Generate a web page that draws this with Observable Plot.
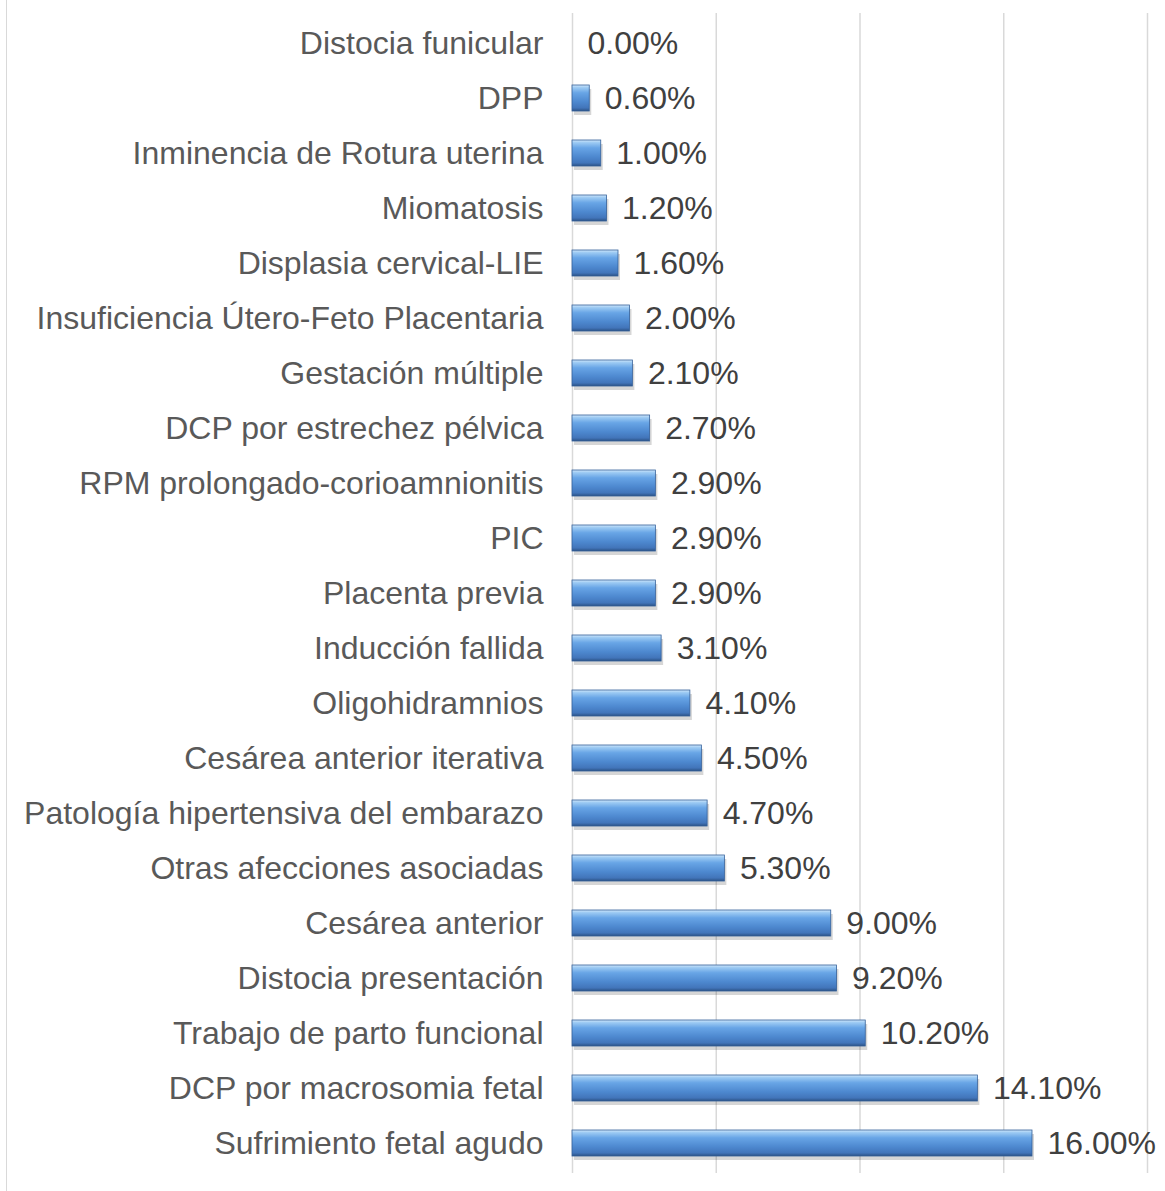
<!DOCTYPE html>
<html>
<head>
<meta charset="utf-8">
<script src="https://cdn.jsdelivr.net/npm/d3@7"></script>
<script src="https://cdn.jsdelivr.net/npm/@observablehq/plot@0.6"></script>
<style>
  html, body { margin: 0; padding: 0; background: #fff; }
  #wrap { position: relative; width: 1165px; height: 1191px; overflow: hidden; }
  #edge { position: absolute; left: 6px; top: 0; width: 1px; height: 1191px; background: #d9d9d9; }
</style>
</head>
<body>
<div id="wrap"><div id="edge"></div></div>
<script>
const categories = [
  "Distocia funicular",
  "DPP",
  "Inminencia de Rotura uterina",
  "Miomatosis",
  "Displasia cervical-LIE",
  "Insuficiencia Útero-Feto Placentaria",
  "Gestación múltiple",
  "DCP por estrechez pélvica",
  "RPM prolongado-corioamnionitis",
  "PIC",
  "Placenta previa",
  "Inducción fallida",
  "Oligohidramnios",
  "Cesárea anterior iterativa",
  "Patología hipertensiva del embarazo",
  "Otras afecciones asociadas",
  "Cesárea anterior",
  "Distocia presentación",
  "Trabajo de parto funcional",
  "DCP por macrosomia fetal",
  "Sufrimiento fetal agudo"
];
const values = [0.0, 0.6, 1.0, 1.2, 1.6, 2.0, 2.1, 2.7, 2.9, 2.9, 2.9, 3.1, 4.1, 4.5, 4.7, 5.3, 9.0, 9.2, 10.2, 14.1, 16.0];
const gridTicks = [0, 5, 10, 15, 20];

const data = categories.map((c, i) => ({category: c, value: values[i]}));

const defs = () => {
  const d = d3.create("svg:defs");
  const g = d.append("linearGradient").attr("id", "barGrad").attr("x1", 0).attr("y1", 0).attr("x2", 0).attr("y2", 1);
  [[0, "#d2e8fb"], [0.1, "#9ccaf3"], [0.3, "#68a5e6"], [0.65, "#4d88cf"], [0.88, "#4275ba"], [1, "#2c5285"]]
    .forEach(([o, c]) => g.append("stop").attr("offset", o).attr("stop-color", c));
  return d.node();
};

const chart = Plot.plot({
  width: 1165,
  height: 1191,
  marginTop: 13,
  marginBottom: 18,
  marginLeft: 572,
  marginRight: 18,
  x: {domain: [0, 20], axis: null},
  y: {domain: categories, paddingInner: 0.52, paddingOuter: 0.26, axis: null},
  style: {fontFamily: "'Liberation Sans', Arial, sans-serif", background: "#fff"},
  marks: [
    defs,
    Plot.ruleX(gridTicks, {x: d => d, stroke: "#d9d9d9", strokeWidth: 1.5}),
    // shadow
    Plot.barX(data, {x: "value", y: "category", fill: "#000", fillOpacity: 0.16, dx: 2, dy: 4}),
    Plot.barX(data, {x: "value", y: "category", fill: "url(#barGrad)", stroke: "#34609a", strokeWidth: 0.8}),
    Plot.text(categories, {
      x: 0, y: d => d, text: d => d, textAnchor: "end", dx: -29,
      fontSize: 32, fill: "#595959"
    }),
    Plot.text(data, {
      x: "value", y: "category", text: d => d.value.toFixed(2) + "%",
      textAnchor: "start", dx: 15, fontSize: 32, fill: "#404040"
    })
  ]
});
document.getElementById("wrap").appendChild(chart);
</script>
</body>
</html>
